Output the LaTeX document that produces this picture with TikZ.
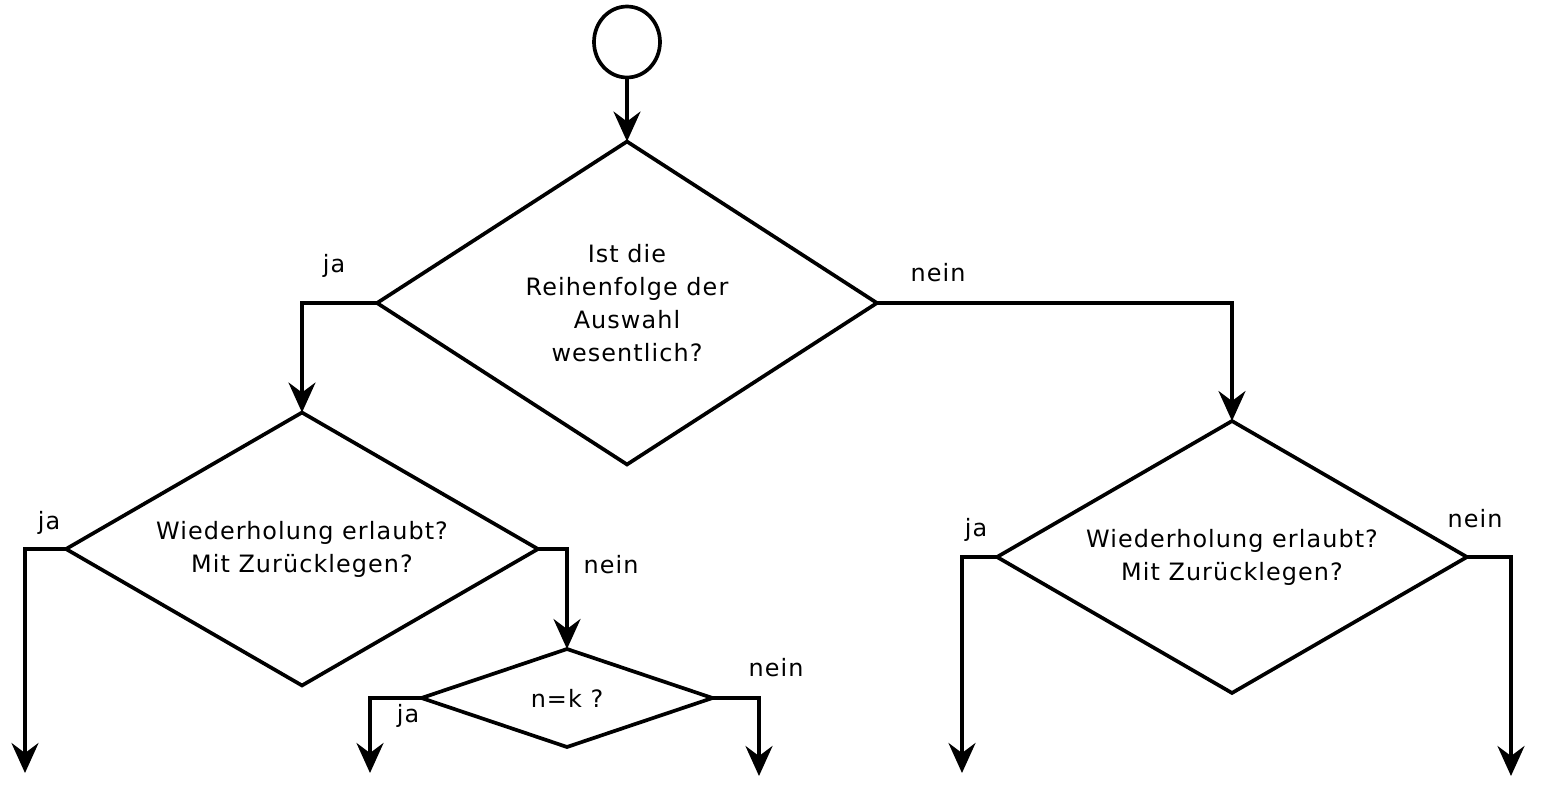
\documentclass[tikz,border=0pt]{standalone}
\usepackage{fontspec}
\setmainfont{DejaVu Sans}[LetterSpace=4.5]
\usetikzlibrary{shapes.geometric,arrows.meta}
\begin{document}
\begin{tikzpicture}[x=0.02cm,y=-0.02cm,line width=2.1pt,
  font=\fontsize{13.6}{18.8}\selectfont,
  decision/.style={diamond,draw,inner sep=0pt,outer sep=0pt,align=center},
  flow/.style={-{Stealth[length=0.6cm,width=0.54cm,inset=0.2cm]}},
  answer/.style={inner sep=0pt}]
  \useasboundingbox (0,0) rectangle (1543,788);
  % start
  \node[ellipse,draw,minimum width=1.32cm,minimum height=1.42cm,inner sep=0pt,outer sep=0pt] (start) at (627,42) {};
  % decisions
  \node[decision,shape aspect=1.55,minimum width=10cm,minimum height=6.46cm] (order) at (627,303) {Ist die\\Reihenfolge der\\Auswahl\\wesentlich?};
  \node[decision,shape aspect=1.73,minimum width=9.44cm,minimum height=5.46cm] (repL) at (302,549) {Wiederholung erlaubt?\\Mit Zurücklegen?};
  \node[decision,shape aspect=1.73,minimum width=9.4cm,minimum height=5.44cm] (repR) at (1232,557) {Wiederholung erlaubt?\\Mit Zurücklegen?};
  \node[decision,shape aspect=2.97,minimum width=5.82cm,minimum height=1.96cm] (nk) at (567,698) {n=k ?};
  % open ends
  \coordinate (endA) at (25,773);
  \coordinate (endB) at (370,773);
  \coordinate (endC) at (759,776);
  \coordinate (endD) at (962,773);
  \coordinate (endE) at (1511,776);
  % answers
  \node[answer] (jaOrder) at (334,266) {ja};
  \node[answer] (neinOrder) at (938,273) {nein};
  \node[answer] (jaRepL) at (49,523) {ja};
  \node[answer] (neinRepL) at (611,565) {nein};
  \node[answer] (jaNk) at (408,716) {ja};
  \node[answer] (neinNk) at (776,668) {nein};
  \node[answer] (jaRepR) at (976,530) {ja};
  \node[answer] (neinRepR) at (1475,519) {nein};
  % connectors
  \draw[flow] (start.south) -- (order.north);
  \draw[flow] (order.west) -| (repL.north);
  \draw[flow] (order.east) -| (repR.north);
  \draw[flow] (repL.west) -| (endA);
  \draw[flow] (repL.east) -| (nk.north);
  \draw[flow] (nk.west) -| (endB);
  \draw[flow] (nk.east) -| (endC);
  \draw[flow] (repR.west) -| (endD);
  \draw[flow] (repR.east) -| (endE);
\end{tikzpicture}
\end{document}
